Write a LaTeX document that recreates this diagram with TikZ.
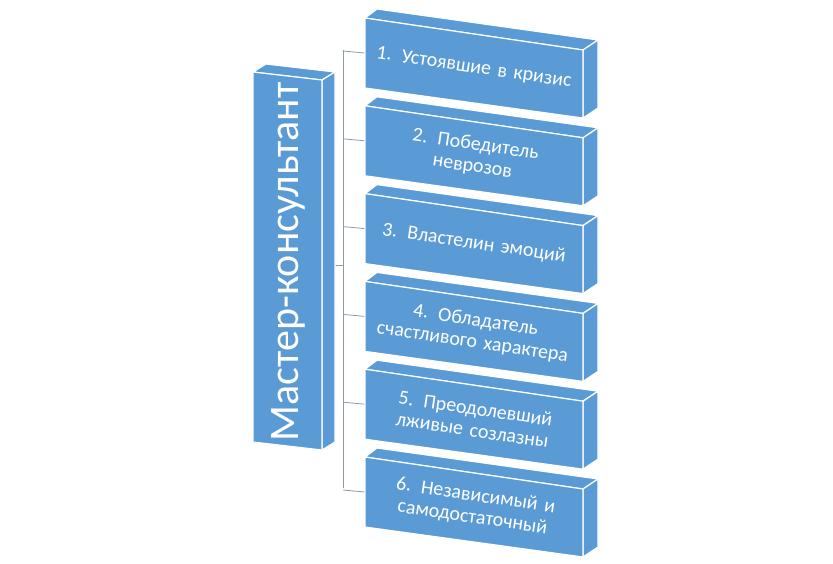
\documentclass[tikz,border=0pt]{standalone}
\usepackage{fontspec}
\setmainfont{Carlito}
\newcommand{\mytightsp}{\spaceskip 0.23em plus 0.05em\relax}
\begin{document}
\begin{tikzpicture}[x=1pt,y=-1pt,
  face/.style={fill=boxblue,draw=white,line width=1.2pt,line join=round},
  lbl/.style={text=white,font=\fontsize{20}{22}\selectfont\mytightsp,align=center,text width=210pt,rotate=-8.4}]
\definecolor{boxblue}{HTML}{5B9BD5}
\definecolor{linegray}{HTML}{8C9AAE}
\useasboundingbox (0,0) rectangle (833,563);
% connectors
\coordinate (bus top) at (343,50);
\coordinate (bus bot) at (343,488);
\coordinate (hub) at (335,265);
\coordinate (bus mid) at (343,265);
\draw[linegray,line width=0.8pt] (bus top) -- (bus bot);
\draw[linegray,line width=0.8pt] (hub) -- (bus mid);
% left box
\draw[face] (253,72) -- (266,64) -- (335,72) -- (322,80) -- cycle;
\draw[face] (322,80) -- (335,72) -- (335,442) -- (322,450) -- cycle;
\draw[face] (253,72) -- (322,80) -- (322,450) -- (253,442) -- cycle;
\node[text=white,rotate=90,font=\fontsize{42}{44}\selectfont\mytightsp] (master) at (288,262) {Мастер-консультант};
% right boxes
\foreach \i/\t in {0/{1. Устоявшие в кризис},1/{2. Победитель\\неврозов},2/{3. Властелин эмоций},3/{4. Обладатель\\счастливого характера},4/{5. Преодолевший\\лживые созлазны},5/{6. Независимый и\\самодостаточный}}{
  \pgfmathsetmacro{\y}{18+87.8*\i}
  \coordinate (s\i) at (343,\y+33);
  \coordinate (e\i) at (365,\y+35);
  \draw[linegray,line width=0.8pt] (s\i) -- (e\i);
  \draw[face] (365,\y) -- (377,\y-9) -- (598,\y+22) -- (583,\y+32) -- cycle;
  \draw[face] (583,\y+32) -- (598,\y+22) -- (598,\y+90) -- (583,\y+100) -- cycle;
  \draw[face] (365,\y) -- (583,\y+32) -- (583,\y+100) -- (365,\y+70) -- cycle;
  \node[lbl] (b\i) at (474,\y+50) {\t};
}
\end{tikzpicture}
\end{document}
